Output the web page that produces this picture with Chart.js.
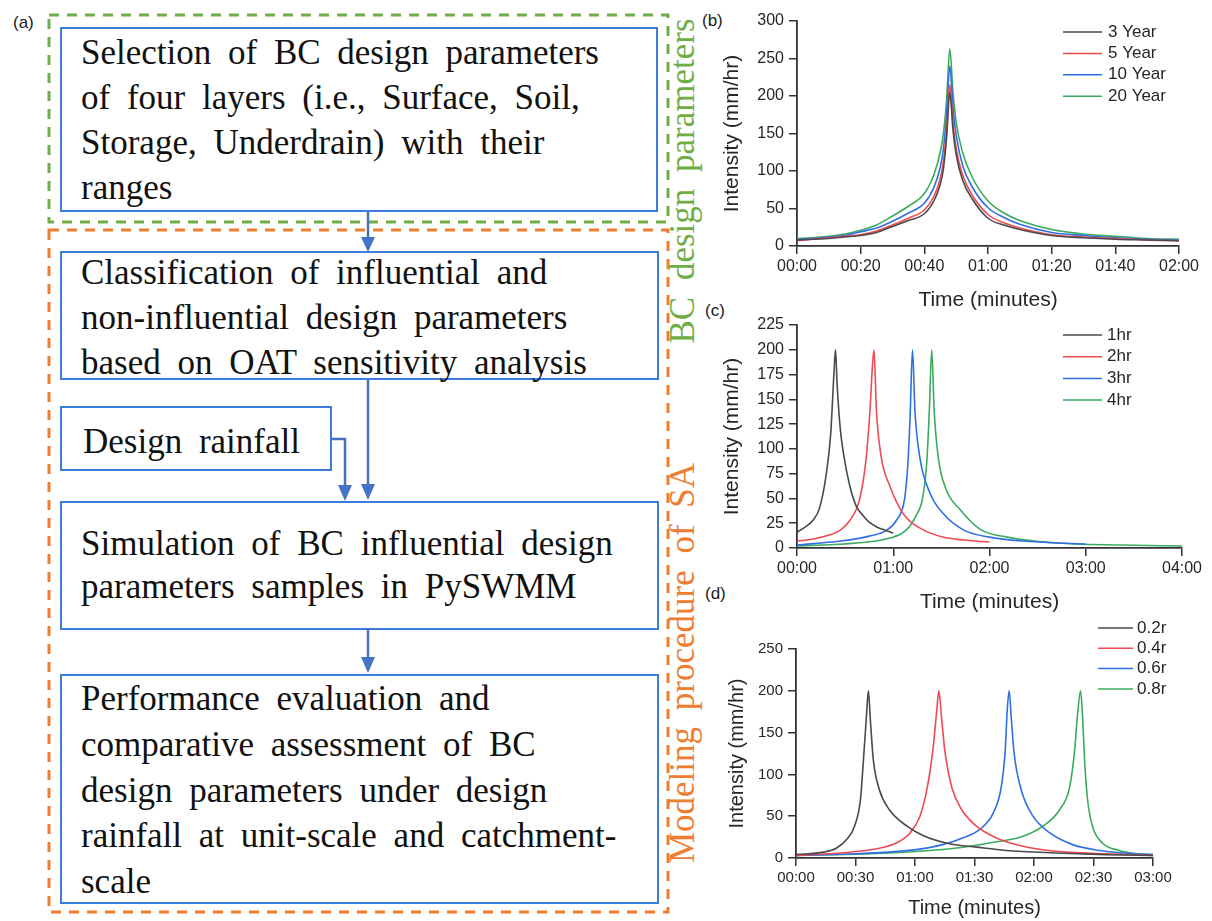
<!DOCTYPE html>
<html lang="en">
<head>
  <meta charset="UTF-8">
  <title>BC design parameters and design rainfall</title>
  <style>
    body {
      margin: 0;
      background: #fff;
    }
    #page {
      position: relative;
      width: 1212px;
      height: 921px;
      overflow: hidden;
      background: #fff;
    }
    #page svg, #page canvas {
      position: absolute;
    }
    .box-text {
      font-family: "Liberation Serif", "Times New Roman", serif;
      font-size: 35px;
      word-spacing: 8px;
      fill: #111;
    }
    .side-text {
      font-family: "Liberation Serif", "Times New Roman", serif;
      font-size: 35px;
      word-spacing: 8px;
    }
    .panel-label {
      font-family: "Liberation Sans", Arial, sans-serif;
      font-size: 17px;
      fill: #1a1a1a;
    }
  </style>
  <script src="https://cdn.jsdelivr.net/npm/chart.js"></script>
</head>
<body>
<div id="page">
  <!-- (a) flowchart -->
  <svg width="1212" height="921" style="left:0;top:0">
    <text class="panel-label" x="13" y="28">(a)</text>
    <text class="panel-label" x="702" y="26">(b)</text>
    <text class="panel-label" x="705" y="316">(c)</text>
    <text class="panel-label" x="705" y="599">(d)</text>

    <rect x="49" y="15" width="619" height="207" fill="none" stroke="#70AD47" stroke-width="3" stroke-dasharray="10 8"/>
    <rect x="49" y="230" width="619" height="682" fill="none" stroke="#ED7D31" stroke-width="3" stroke-dasharray="10 8"/>

    <g fill="#fff" stroke="#3B7DD8" stroke-width="2">
      <rect x="61" y="28" width="596" height="183"/>
      <rect x="61" y="252" width="597" height="127"/>
      <rect x="61" y="407" width="270" height="63"/>
      <rect x="61" y="502" width="597" height="127"/>
      <rect x="61" y="675" width="597" height="228"/>
    </g>

    <!-- arrows -->
    <g stroke="#4472C4" stroke-width="2.5" fill="none">
      <line x1="368" y1="211" x2="368" y2="240"/>
      <line x1="368" y1="379" x2="368" y2="487"/>
      <polyline points="331,439 345,439 345,488"/>
      <line x1="368" y1="629" x2="368" y2="660"/>
    </g>
    <g fill="#4472C4">
      <polygon points="361,237 375,237 368,252"/>
      <polygon points="361,484 375,484 368,500"/>
      <polygon points="338,485 352,485 345,501"/>
      <polygon points="361,657 375,657 368,673"/>
    </g>

    <g class="box-text">
      <text x="81" y="64">Selection of BC design parameters</text>
      <text x="81" y="109">of four layers (i.e., Surface, Soil,</text>
      <text x="81" y="154">Storage, Underdrain) with their</text>
      <text x="81" y="199">ranges</text>

      <text x="81" y="284">Classification of influential and</text>
      <text x="81" y="329">non-influential design parameters</text>
      <text x="81" y="374">based on OAT sensitivity analysis</text>

      <text x="83" y="453">Design rainfall</text>

      <text x="81" y="555">Simulation of BC influential design</text>
      <text x="81" y="598">parameters samples in PySWMM</text>

      <text x="81" y="710">Performance evaluation and</text>
      <text x="81" y="756">comparative assessment of BC</text>
      <text x="81" y="802">design parameters under design</text>
      <text x="81" y="847">rainfall at unit-scale and catchment-</text>
      <text x="81" y="893">scale</text>
    </g>

    <text class="side-text" fill="#70AD47" text-anchor="middle" transform="translate(694,181) rotate(-90)">BC design parameters</text>
    <text class="side-text" fill="#ED7D31" text-anchor="middle" transform="translate(694,663) rotate(-90)">Modeling procedure of SA</text>
  </svg>

  <canvas id="chartB" width="522" height="313" style="left:690px;top:0px"></canvas>
  <canvas id="chartC" width="522" height="315" style="left:690px;top:300px"></canvas>
  <canvas id="chartD" width="522" height="320" style="left:690px;top:600px"></canvas>
</div>

<script>
  // ---- (b) return periods, 2 hr storm ----
  const bTime = [0, 5, 10, 15, 20, 25, 30, 35, 40, 43, 45, 46, 47, 48, 49, 50, 52, 55, 60, 65, 70, 80, 90, 100, 110, 120];
  const b3Year  = [8, 9, 10, 12, 14, 18, 26, 34, 43, 60, 82, 103, 145, 205, 155, 122, 88, 63, 37, 28, 22, 14, 11, 9, 8, 7];
  const b5Year  = [7, 9, 11, 13, 15, 20, 28, 37, 48, 66, 90, 113, 155, 215, 165, 130, 95, 68, 42, 31, 24, 15, 12, 10, 8, 7];
  const b10Year = [9, 10, 12, 14, 19, 24, 33, 44, 57, 78, 105, 130, 175, 240, 185, 148, 108, 79, 51, 38, 29, 18, 14, 11, 9, 8];
  const b20Year = [10, 11, 13, 16, 21, 28, 40, 53, 70, 95, 125, 150, 195, 263, 205, 165, 125, 92, 60, 44, 34, 22, 16, 13, 10, 9];
  const bLabels = ['3 Year', '5 Year', '10 Year', '20 Year'];
  const bTicks = ['00:00', '00:20', '00:40', '01:00', '01:20', '01:40', '02:00'];

  // ---- (c) storm durations ----
  const c1hrTime = [0, 5, 10, 14, 18, 21, 23, 24, 25, 27, 29, 33, 37, 41, 45, 50, 55, 60];
  const c1hr     = [16, 21, 28, 40, 72, 115, 175, 200, 165, 120, 95, 62, 42, 33, 26, 21, 18, 15];
  const c2hrTime = [0, 10, 20, 27, 33, 39, 43, 45.5, 47, 48, 49.5, 52.5, 58, 66, 79, 91, 104, 120];
  const c2hr     = [7, 9, 13, 18, 28, 49, 89, 139, 183, 200, 139, 92, 62, 35, 18, 11, 8, 6];
  const c3hrTime = [0, 27, 45, 56, 62, 67, 69, 70.5, 72, 73.5, 76.5, 83, 91, 104, 120, 141, 180];
  const c3hr     = [3, 7, 12, 18, 28, 49, 82, 132, 200, 139, 92, 55, 35, 18, 11, 7, 4];
  const c4hrTime = [0, 37, 58, 68, 74, 78.5, 81, 82.5, 84, 85.5, 88, 93, 101.5, 114, 131, 162, 203, 240];
  const c4hr     = [2, 5, 10, 18, 32, 52, 89, 139, 200, 139, 92, 59, 39, 19, 11, 5, 3, 2];
  const cLabels = ['1hr', '2hr', '3hr', '4hr'];
  const cTicks = ['00:00', '01:00', '02:00', '03:00', '04:00'];

  // ---- (d) peak position ratio r ----
  const d02Time = [0, 14, 20.5, 25.5, 29.5, 32.5, 34, 35.5, 36.5, 37.5, 39, 42, 47, 56, 64, 77.5, 91, 106, 131, 156, 180];
  const d02     = [4, 7, 12, 22, 38, 70, 117, 169, 200, 165, 117, 82, 58, 38, 27, 17, 13, 9, 6, 4, 3];
  const d04Time = [0, 22, 40.5, 50.5, 57.5, 62.5, 66, 69, 71, 72, 73.5, 75, 78.5, 83.5, 91, 101, 114.5, 131, 156, 180];
  const d04     = [3, 6, 11, 18, 30, 50, 82, 129, 177, 200, 165, 129, 85, 58, 38, 24, 14, 8, 5, 3];
  const d06Time = [0, 30, 60.5, 74, 84, 92.5, 99.5, 103.5, 105.5, 106.5, 107.5, 108.5, 110, 113.5, 119.5, 128, 139.5, 153, 165, 180];
  const d06     = [3, 5, 10, 16, 24, 34, 54, 85, 129, 177, 200, 169, 125, 82, 50, 30, 16, 9, 6, 4];
  const d08Time = [0, 47, 81, 97.5, 114.5, 124.5, 133, 138, 140.5, 142, 143.5, 144.5, 145.5, 147, 149.5, 154.5, 163, 171.5, 180];
  const d08     = [3, 6, 12, 18, 26, 38, 58, 85, 129, 173, 200, 169, 117, 70, 38, 18, 9, 5, 4];
  const dLabels = ['0.2r', '0.4r', '0.6r', '0.8r'];
  const dTicks = ['00:00', '00:30', '01:00', '01:30', '02:00', '02:30', '03:00'];

  const seriesColors = ['#4a4a4a', '#f04a52', '#2f6fe4', '#3aab5e'];
  const axisColor = '#333';

  Chart.defaults.font.family = '"Liberation Sans", Arial, sans-serif';
  Chart.defaults.color = '#262626';

  // legend drawn inside the plot, short line + label
  const lineLegend = {
    id: 'lineLegend',
    afterDraw(chart, args, opts) {
      const ctx = chart.ctx;
      ctx.save();
      ctx.font = '17px "Liberation Sans", Arial, sans-serif';
      ctx.textBaseline = 'middle';
      chart.data.datasets.forEach((ds, i) => {
        const y = opts.y + i * opts.rowH;
        ctx.strokeStyle = ds.borderColor;
        ctx.lineWidth = 1.5;
        ctx.beginPath();
        ctx.moveTo(opts.x, y);
        ctx.lineTo(opts.x + opts.len, y);
        ctx.stroke();
        ctx.fillStyle = '#262626';
        ctx.fillText(ds.label, opts.x + opts.len + opts.gap, y);
      });
      ctx.restore();
    }
  };

  function drawPanel(id, times, values, labels, p) {
    const datasets = values.map((vals, i) => ({
      label: labels[i],
      data: vals.map((v, j) => ({ x: times[i][j], y: v })),
      borderColor: seriesColors[i],
      borderWidth: 1.6,
      borderJoinStyle: 'round',
      cubicInterpolationMode: 'monotone',
      pointRadius: 0,
      fill: false
    }));
    const grid = { drawOnChartArea: false, drawTicks: true, tickLength: 8, color: axisColor, lineWidth: 1.5 };
    const border = { display: true, color: axisColor, width: 1.8 };
    return new Chart(document.getElementById(id), {
      type: 'line',
      data: { datasets },
      plugins: [lineLegend],
      options: {
        responsive: false,
        animation: false,
        layout: { padding: { left: 0, right: p.padRight, top: p.padTop, bottom: 0 } },
        plugins: {
          legend: { display: false },
          tooltip: { enabled: false },
          lineLegend: p.legend
        },
        scales: {
          x: {
            type: 'linear',
            min: 0,
            max: p.xMax,
            grid, border,
            ticks: {
              stepSize: p.xStep,
              autoSkip: false,
              maxRotation: 0,
              padding: 3,
              font: { size: p.tickSize },
              callback: (v, i) => p.xTicks[i]
            },
            title: {
              display: true,
              text: 'Time (minutes)',
              font: { size: p.titleSize },
              padding: { top: 0, bottom: 0 }
            },
            afterFit: s => { s.height = p.xHeight; }
          },
          y: {
            min: 0,
            max: p.yMax,
            grid, border,
            ticks: { stepSize: p.yStep, padding: 5, font: { size: p.tickSize } },
            title: {
              display: true,
              text: 'Intensity (mm/hr)',
              font: { size: p.titleSize },
              padding: { top: p.yTitlePad, bottom: 0 }
            },
            afterFit: s => { s.width = p.yWidth; }
          }
        }
      }
    });
  }

  drawPanel('chartB',
    [bTime, bTime, bTime, bTime],
    [b3Year, b5Year, b10Year, b20Year],
    bLabels,
    { xMax: 120, xStep: 20, xTicks: bTicks, yMax: 300, yStep: 50,
      padRight: 33, padTop: 21, xHeight: 67, yWidth: 107, yTitlePad: 30,
      tickSize: 16, titleSize: 21,
      legend: { x: 373, y: 32, len: 39, gap: 6, rowH: 21.4 } });

  drawPanel('chartC',
    [c1hrTime, c2hrTime, c3hrTime, c4hrTime],
    [c1hr, c2hr, c3hr, c4hr],
    cLabels,
    { xMax: 240, xStep: 60, xTicks: cTicks, yMax: 225, yStep: 25,
      padRight: 30, padTop: 25, xHeight: 67, yWidth: 107, yTitlePad: 30,
      tickSize: 16, titleSize: 21,
      legend: { x: 373, y: 35, len: 39, gap: 5, rowH: 21.7 } });

  drawPanel('chartD',
    [d02Time, d04Time, d06Time, d08Time],
    [d02, d04, d06, d08],
    dLabels,
    { xMax: 180, xStep: 30, xTicks: dTicks, yMax: 250, yStep: 50,
      padRight: 59, padTop: 49, xHeight: 62, yWidth: 106, yTitlePad: 35,
      tickSize: 15, titleSize: 20,
      legend: { x: 408, y: 28, len: 35, gap: 4, rowH: 20.3 } });
</script>
</body>
</html>
